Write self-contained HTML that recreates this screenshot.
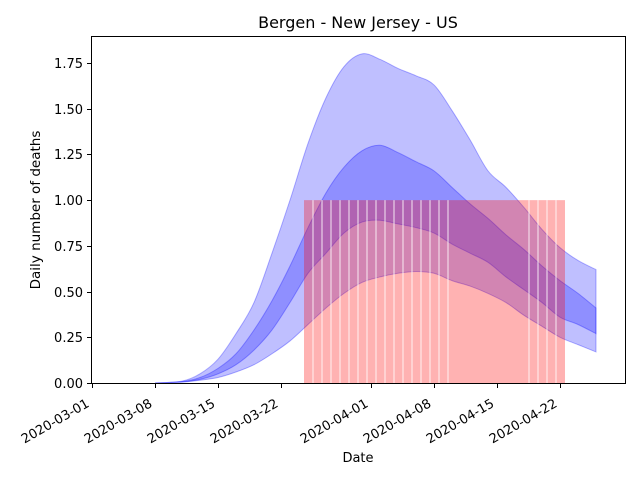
<!DOCTYPE html>
<html><head><meta charset="utf-8"><style>
body{margin:0;background:#fff}
svg text{font-family:"DejaVu Sans","Liberation Sans",sans-serif;fill:#000}
</style></head><body>
<svg id="chart" width="640" height="480" viewBox="0 0 640 480" xmlns="http://www.w3.org/2000/svg">
<rect width="640" height="480" fill="#fff"/>
<text x="358" y="28" font-size="16" text-anchor="middle">Bergen - New Jersey - US</text>
<g id="plot"></g>
<rect x="91.5" y="36.5" width="534" height="347" fill="none" stroke="#000" stroke-width="1"/>
<g id="axes"></g>
<text x="358" y="462" font-size="13" text-anchor="middle">Date</text>
<text transform="translate(40,210) rotate(-90)" font-size="13.5" text-anchor="middle">Daily number of deaths</text>
</svg>
<script>
const bandDays=[7,10,12,14,16,18,20,22,24,26,28,30,32,34,36,38,40,42,44,46,48,50,52,54,56];
const outerUpper=[0,0.01,0.05,0.13,0.27,0.44,0.71,1.0,1.31,1.56,1.73,1.80,1.77,1.72,1.68,1.63,1.49,1.33,1.16,1.07,0.96,0.84,0.74,0.67,0.62];
const outerLower=[0,0.005,0.015,0.03,0.06,0.10,0.16,0.23,0.32,0.41,0.49,0.55,0.58,0.60,0.61,0.60,0.56,0.53,0.49,0.44,0.37,0.31,0.25,0.21,0.17];
const innerUpper=[0,0.008,0.03,0.08,0.16,0.29,0.45,0.64,0.85,1.04,1.18,1.27,1.30,1.26,1.21,1.16,1.07,0.98,0.90,0.81,0.73,0.64,0.56,0.49,0.41];
const innerLower=[0,0.006,0.02,0.05,0.10,0.18,0.29,0.44,0.60,0.71,0.82,0.88,0.89,0.87,0.85,0.82,0.76,0.71,0.66,0.58,0.51,0.44,0.36,0.32,0.27];
const barDays=[24,25,26,27,28,29,30,31,32,33,34,35,36,37,38,39,40,41,42,43,44,45,46,47,48,49,50,51,52];
const barValues=[1,1,1,1,1,1,1,1,1,1,1,1,1,1,1,1,1,1,1,1,1,1,1,1,1,1,1,1,1];
const gapDays=[25,26,27,28,29,30,31,32,33,34,35,36,37,38,39,40,49,50,51,52];
const xTickDays=[0,7,14,21,31,38,45,52];
const xTickLabels=["2020-03-01","2020-03-08","2020-03-15","2020-03-22","2020-04-01","2020-04-08","2020-04-15","2020-04-22"];
const yTicks=[0,0.25,0.5,0.75,1.0,1.25,1.5,1.75];
const yTickLabels=["0.00","0.25","0.50","0.75","1.00","1.25","1.50","1.75"];

const NS="http://www.w3.org/2000/svg";
const X=d=>92+9*d;
const Y=v=>383-182.86*v;
const plot=document.getElementById('plot');
const axes=document.getElementById('axes');
function mk(tag,attrs,parent){const e=document.createElementNS(NS,tag);for(const k in attrs)e.setAttribute(k,attrs[k]);parent.appendChild(e);return e;}
function spline(pts){
  let d="";
  for(let i=0;i<pts.length-1;i++){
    const p0=pts[Math.max(i-1,0)],p1=pts[i],p2=pts[i+1],p3=pts[Math.min(i+2,pts.length-1)];
    const c1=[p1[0]+(p2[0]-p0[0])/6,p1[1]+(p2[1]-p0[1])/6];
    const c2=[p2[0]-(p3[0]-p1[0])/6,p2[1]-(p3[1]-p1[1])/6];
    d+="C"+c1[0]+","+c1[1]+" "+c2[0]+","+c2[1]+" "+p2[0]+","+p2[1];
  }
  return d;
}
function band(up,lo,name){
  const u=bandDays.map((t,i)=>[X(t),Y(up[i])]);
  const l=bandDays.map((t,i)=>[X(t),Y(lo[i])]).reverse();
  let d="M"+u[0][0]+","+u[0][1]+spline(u)+"L"+l[0][0]+","+l[0][1]+spline(l)+"Z";
  const p=mk('path',{d:d,fill:'rgba(0,0,255,0.25)',stroke:'rgba(0,0,255,0.3)','stroke-width':1},plot);
  
  
}
band(outerUpper,outerLower,'outer-band');
band(innerUpper,innerLower,'inner-band');

barDays.forEach((d,i)=>{
  const r=mk('rect',{x:X(d)-4,y:Y(barValues[i]),width:9,height:Y(0)-Y(barValues[i]),fill:'rgba(255,0,0,0.3)'},plot);
  
  
});
gapDays.forEach(d=>{
  const l=mk('line',{x1:X(d)-4,x2:X(d)-4,y1:Y(1),y2:Y(0),stroke:'#fff','stroke-width':1,opacity:0.85},plot);
  
  
});

xTickDays.forEach((d,i)=>{
  const t=mk('line',{x1:X(d)+0.5,x2:X(d)+0.5,y1:384,y2:388,stroke:'#000'},axes);
  
  
  const px=X(d)-2, py=406;
  const tx=mk('text',{x:px,y:py,'font-size':13,'text-anchor':'end',transform:'rotate(-30 '+px+' '+py+')'},axes);
  tx.textContent=xTickLabels[i];
  
  
});
yTicks.forEach((v,i)=>{
  const y=Math.round(Y(v))+0.5;
  const t=mk('line',{x1:87,x2:91,y1:y,y2:y,stroke:'#000'},axes);
  
  
  const tx=mk('text',{x:83,y:y+4.5,'font-size':13,'text-anchor':'end'},axes);
  tx.textContent=yTickLabels[i];
  
  
});
</script>
</body></html>
